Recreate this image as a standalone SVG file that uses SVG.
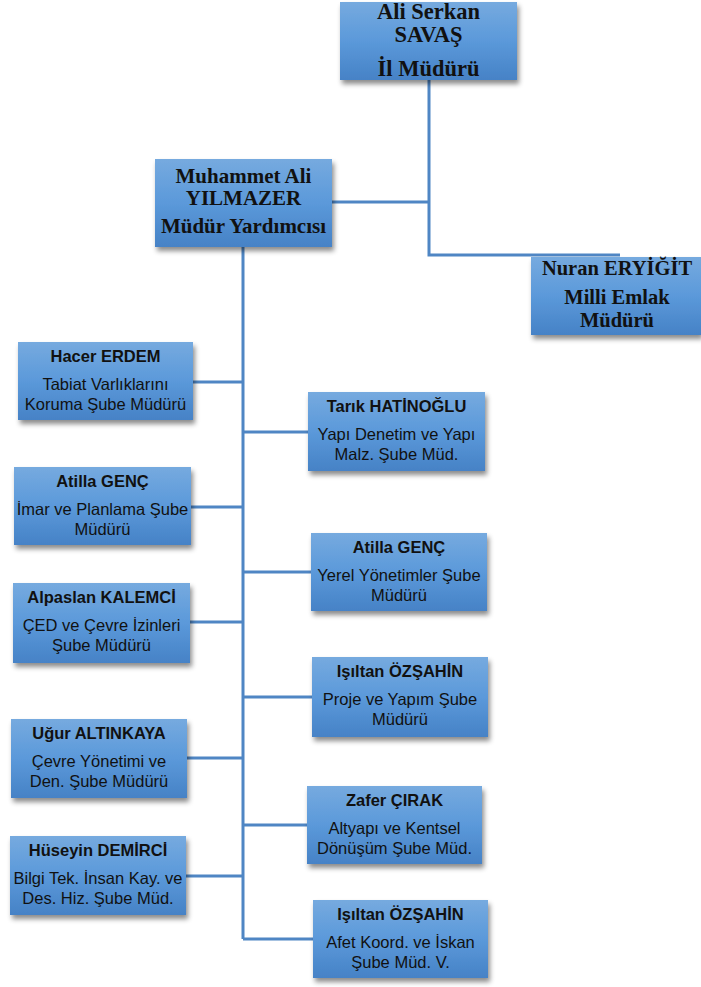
<svg xmlns="http://www.w3.org/2000/svg" width="701" height="987" viewBox="0 0 701 987">
<defs>
<linearGradient id="bg" x1="0" y1="0" x2="0" y2="1">
<stop offset="0" stop-color="#76aadf"/>
<stop offset="0.5" stop-color="#5b99da"/>
<stop offset="1" stop-color="#4682c6"/>
</linearGradient>
<filter id="sh" x="-10%" y="-10%" width="125%" height="135%">
<feDropShadow dx="2" dy="4" stdDeviation="2.5" flood-color="#000" flood-opacity="0.45"/>
</filter>
</defs>
<style>
.box{fill:url(#bg);filter:url(#sh)}
.ln{stroke:#4f86c4;stroke-width:3;fill:none}
.t{font-family:"Liberation Sans",Arial,sans-serif;font-size:16.5px;fill:#111;text-anchor:middle}
.b{font-weight:bold}
.s{font-family:"Liberation Serif","Times New Roman",serif;font-weight:bold;fill:#111;text-anchor:middle}
</style>
<rect width="701" height="987" fill="#fff"/>
<g id="connectors">
<path class="ln" d="M429 80 V255 H620"/>
<path class="ln" d="M332 202 H429"/>
<path class="ln" d="M243 247 V939"/>
<path class="ln" d="M193 382 H243"/>
<path class="ln" d="M191 507 H243"/>
<path class="ln" d="M190 622 H243"/>
<path class="ln" d="M187 758 H243"/>
<path class="ln" d="M186 876 H243"/>
<path class="ln" d="M243 432 H308"/>
<path class="ln" d="M243 572 H311"/>
<path class="ln" d="M243 697 H312"/>
<path class="ln" d="M243 825 H307"/>
<path class="ln" d="M243 939 H313"/>
</g>
<g id="il-muduru">
<rect class="box" x="340" y="2" width="177" height="78"/>
<text class="s" font-size="22.5" x="428.5" y="19">Ali Serkan</text>
<text class="s" font-size="22.5" x="428.5" y="42">SAVAŞ</text>
<text class="s" font-size="22.5" x="428.5" y="76">İl Müdürü</text>
</g>
<g id="mudur-yardimcisi">
<rect class="box" x="155" y="159" width="177" height="88"/>
<text class="s" font-size="21" x="243.5" y="183">Muhammet Ali</text>
<text class="s" font-size="21" x="243.5" y="205">YILMAZER</text>
<text class="s" font-size="21" x="243.5" y="233">Müdür Yardımcısı</text>
</g>
<g id="milli-emlak">
<rect class="box" x="531" y="257" width="170" height="78"/>
<text class="s" font-size="20.5" x="617" y="275">Nuran ERYİĞİT</text>
<text class="s" font-size="20.5" x="617" y="304">Milli Emlak</text>
<text class="s" font-size="20.5" x="617" y="327">Müdürü</text>
</g>
<g id="hacer">
<rect class="box" x="18" y="342" width="175" height="78"/>
<text class="t b" x="105.5" y="362">Hacer ERDEM</text>
<text class="t" x="105.5" y="390">Tabiat Varlıklarını</text>
<text class="t" x="105.5" y="410">Koruma Şube Müdürü</text>
</g>
<g id="atilla-imar">
<rect class="box" x="14" y="467" width="177" height="78"/>
<text class="t b" x="102.5" y="487">Atilla GENÇ</text>
<text class="t" x="102.5" y="515">İmar ve Planlama Şube</text>
<text class="t" x="102.5" y="535">Müdürü</text>
</g>
<g id="alpaslan">
<rect class="box" x="13" y="583" width="177" height="80"/>
<text class="t b" x="101.5" y="603">Alpaslan KALEMCİ</text>
<text class="t" x="101.5" y="631">ÇED ve Çevre İzinleri</text>
<text class="t" x="101.5" y="651">Şube Müdürü</text>
</g>
<g id="ugur">
<rect class="box" x="11" y="719" width="176" height="79"/>
<text class="t b" x="99" y="739">Uğur ALTINKAYA</text>
<text class="t" x="99" y="767">Çevre Yönetimi ve</text>
<text class="t" x="99" y="787">Den. Şube Müdürü</text>
</g>
<g id="huseyin">
<rect class="box" x="10" y="836" width="176" height="79"/>
<text class="t b" x="98" y="856">Hüseyin DEMİRCİ</text>
<text class="t" x="98" y="884">Bilgi Tek. İnsan Kay. ve</text>
<text class="t" x="98" y="904">Des. Hiz. Şube Müd.</text>
</g>
<g id="tarik">
<rect class="box" x="308" y="392" width="177" height="79"/>
<text class="t b" x="396.5" y="412">Tarık HATİNOĞLU</text>
<text class="t" x="396.5" y="440">Yapı Denetim ve Yapı</text>
<text class="t" x="396.5" y="460">Malz. Şube Müd.</text>
</g>
<g id="atilla-yerel">
<rect class="box" x="311" y="533" width="176" height="78"/>
<text class="t b" x="399" y="553">Atilla GENÇ</text>
<text class="t" x="399" y="581">Yerel Yönetimler Şube</text>
<text class="t" x="399" y="601">Müdürü</text>
</g>
<g id="isiltan-proje">
<rect class="box" x="312" y="657" width="176" height="80"/>
<text class="t b" x="400" y="677">Işıltan ÖZŞAHİN</text>
<text class="t" x="400" y="705">Proje ve Yapım Şube</text>
<text class="t" x="400" y="725">Müdürü</text>
</g>
<g id="zafer">
<rect class="box" x="307" y="786" width="175" height="78"/>
<text class="t b" x="394.5" y="806">Zafer ÇIRAK</text>
<text class="t" x="394.5" y="834">Altyapı ve Kentsel</text>
<text class="t" x="394.5" y="854">Dönüşüm Şube Müd.</text>
</g>
<g id="isiltan-afet">
<rect class="box" x="313" y="900" width="175" height="78"/>
<text class="t b" x="400.5" y="920">Işıltan ÖZŞAHİN</text>
<text class="t" x="400.5" y="948">Afet Koord. ve İskan</text>
<text class="t" x="400.5" y="968">Şube Müd. V.</text>
</g>
</svg>
